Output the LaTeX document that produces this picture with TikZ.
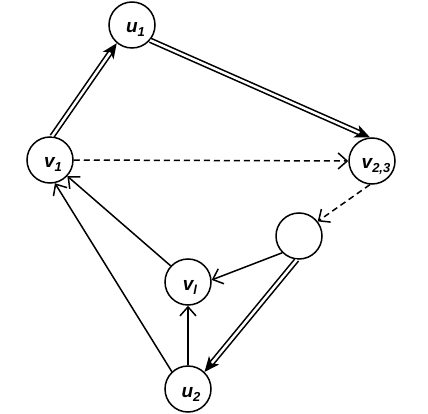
\documentclass[tikz,border=0pt]{standalone}
\usepackage{fontspec}
\setmainfont{Liberation Sans}
\usetikzlibrary{arrows.meta}
\newcommand{\mysub}[1]{\raisebox{-4pt}{\fontsize{13}{13}\selectfont #1}}
\newcommand{\lbl}[3]{\hspace*{#1}\raisebox{-8pt}[0pt][0pt]{#2\mysub{#3}}}
\begin{document}
\begin{tikzpicture}[x=1pt,y=-1pt,
  vert/.style={circle,draw,line width=1.5pt,minimum size=46pt,inner sep=0pt,
    font=\fontsize{19}{20}\selectfont\bfseries\itshape},
  dbl/.style={double,double distance=2.5pt,line width=1.6pt,-{Stealth[length=15pt,width=13pt,inset=4pt]}},
  opn/.style={line width=1.5pt,-{Straight Barb[length=9pt,width=16pt]}},
  dsh/.style={opn,dash pattern=on 6pt off 4pt}]
\useasboundingbox (0,0) rectangle (428,414);
\node[vert] (u1) at (132,25) {\lbl{7pt}{u}{1}};
\node[vert] (v1) at (50,160) {\lbl{6pt}{v}{1}};
\node[vert] (v23) at (372,161) {\lbl{8pt}{v}{2,3}};
\node[vert] (b) at (299,236) {};
\node[vert] (vl) at (188,282) {\lbl{4pt}{v}{l}};
\node[vert] (u2) at (188,389) {\lbl{6pt}{u}{2}};
\draw[dbl] (v1.85) -- (u1.230);
\draw[dbl] (u1.-40) -- (v23.95);
\draw[dsh] (v1.east) -- (v23.west);
\draw[dsh] (v23.265) -- (b.38);
\draw[opn] (b.225) -- (vl.5);
\draw[dbl] (b.265) -- (u2.46);
\draw[opn] (u2.north) -- (vl.south);
\draw[opn] (vl.137) -- (v1.-43);
\draw[opn] (u2.133) -- (v1.-78);
\end{tikzpicture}
\end{document}
